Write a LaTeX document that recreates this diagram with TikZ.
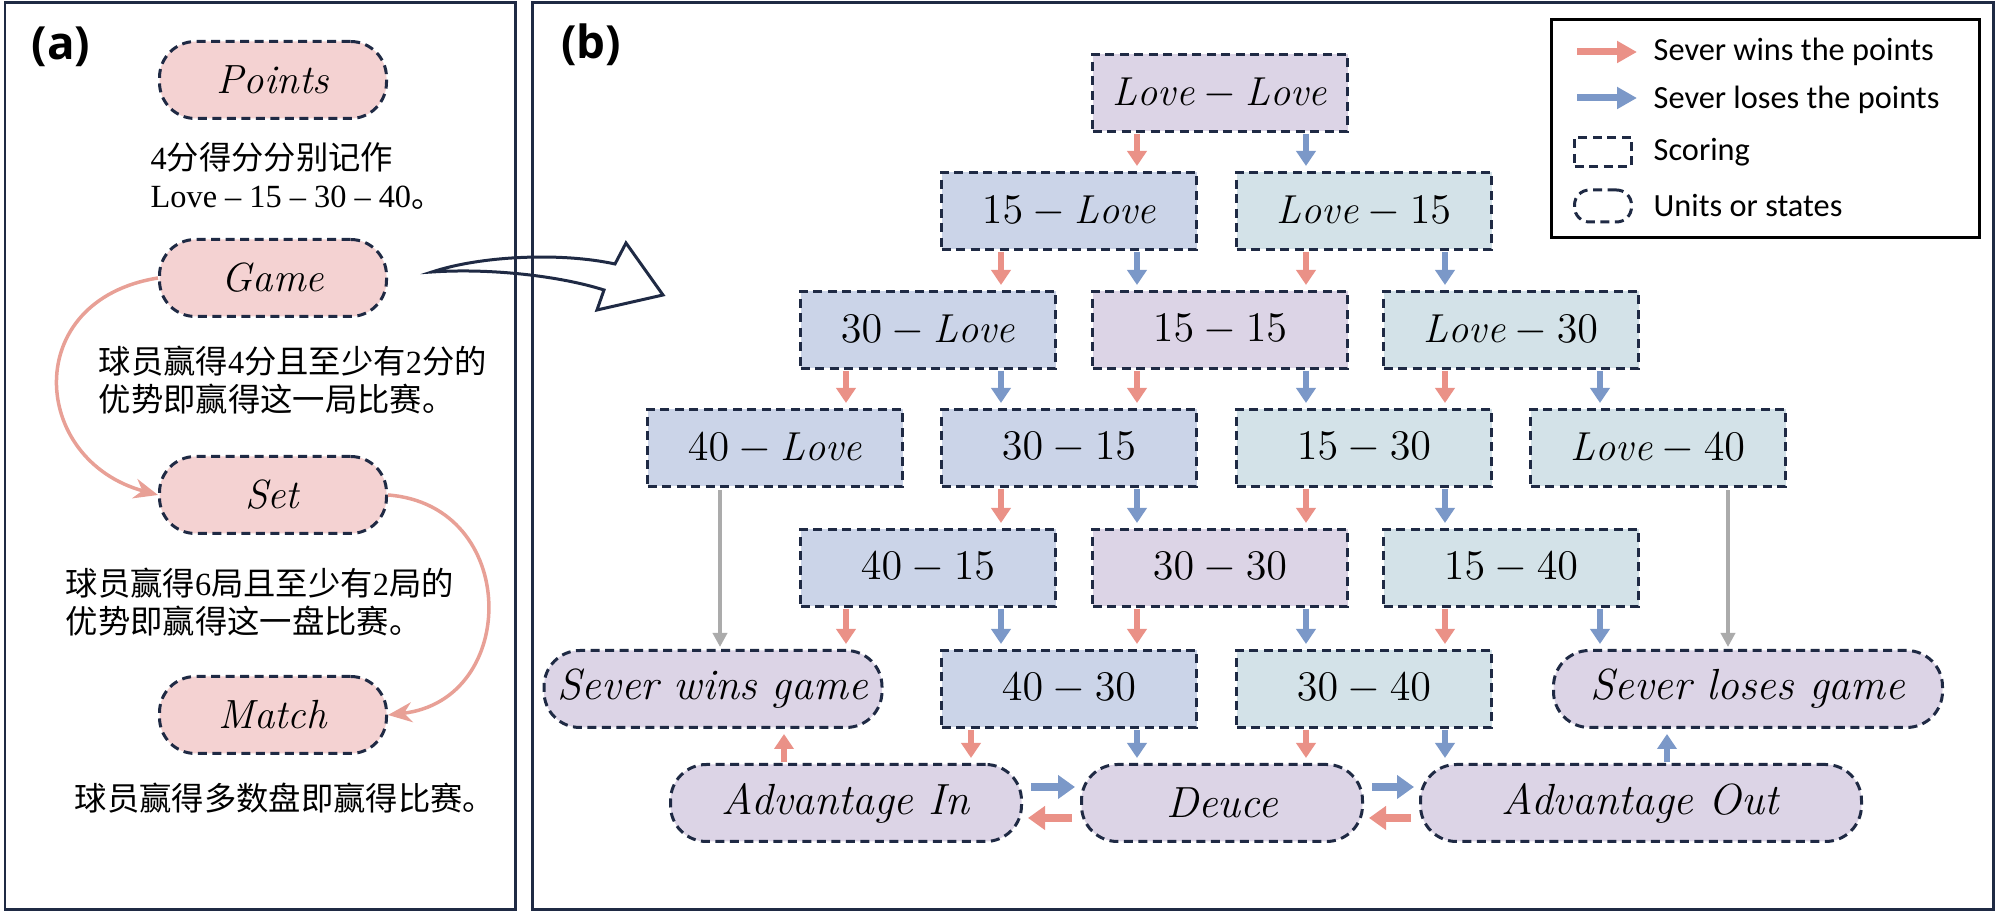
\documentclass[tikz,border=0pt]{standalone}
\usepackage{amsmath}
\usepackage{fontspec}
\newfontfamily\cjk{Noto Sans CJK SC}
\newfontfamily\legendfont{Carlito}
\newfontfamily\tnr{Liberation Serif}
\newfontfamily\labelfont{Open Sans}
\usetikzlibrary{arrows.meta,positioning}
\definecolor{navy}{RGB}{31,42,68}
\definecolor{pillpink}{RGB}{244,210,210}
\definecolor{boxpurple}{RGB}{220,212,230}
\definecolor{boxblue}{RGB}{203,212,232}
\definecolor{boxteal}{RGB}{211,226,232}
\definecolor{winred}{RGB}{234,145,135}
\definecolor{loseblue}{RGB}{123,152,200}
\definecolor{curvepink}{RGB}{232,160,150}
\newcommand\boxfont{\fontsize{11.5}{13}\selectfont}
\newcommand\pillfont{\fontsize{12.4}{14}\selectfont}
\newcommand\unitfont{\fontsize{11.6}{14}\selectfont}
\newcommand\notefont{\fontsize{9.2}{10.8}\selectfont}
\tikzset{scorebox/.style={draw=navy,line width=0.3mm,dash pattern=on 0.9mm off 0.55mm,
        minimum width=25.5mm,minimum height=7.7mm,inner sep=0pt,font=\boxfont},
    unitpill/.style={scorebox,rounded corners=3.6mm,font=\pillfont},
    winarrow/.style={draw=winred,line width=0.6mm,-{Triangle[width=1.9mm,length=1.5mm]},
        shorten <=0.1mm,shorten >=0.5mm},
    losearrow/.style={winarrow,draw=loseblue},
    grayarrow/.style={draw=black!33,line width=0.4mm,-{Triangle[width=1.4mm,length=1.4mm]},
        shorten <=0.2mm,shorten >=0.2mm},
    fatarrow/.style={line width=0.8mm,-{Triangle[width=2.3mm,length=1.7mm]},
        shorten <=0.8mm,shorten >=0.5mm},
    legendarrow/.style={line width=0.7mm,-{Triangle[width=2.1mm,length=2mm]}},
    curvearrow/.style={draw=curvepink,line width=0.35mm,-{Stealth[length=2.4mm,width=2mm]}},
    note/.style={anchor=west,align=left,inner sep=0pt,font=\notefont},
    legendtext/.style={anchor=west,inner sep=0pt,font=\legendfont\fontsize{9.2}{11}\selectfont},
    panellabel/.style={inner sep=0pt,font=\labelfont\bfseries\fontsize{13}{15}\selectfont}}

\begin{document}
\begin{tikzpicture}[x=0.1mm,y=-0.1mm]
\useasboundingbox (0,0) rectangle (2000,915);

% panels
\draw [navy,line width=0.3mm] (5,3) rectangle (515,910);
\draw [navy,line width=0.3mm] (532,3) rectangle (1993,910);
\node (la) [panellabel] at (61,47) {(a)};
\node (lb) [panellabel] at (591,45) {(b)};

% (a) units
\node (points) [unitpill,fill=pillpink,minimum width=22.7mm,font=\unitfont] at (273,80) {\textit{Points}};
\node (game)   [unitpill,fill=pillpink,minimum width=22.7mm,font=\unitfont] at (273,278) {\textit{Game}};
\node (set)    [unitpill,fill=pillpink,minimum width=22.7mm,font=\unitfont] at (273,495) {\textit{Set}};
\node (match)  [unitpill,fill=pillpink,minimum width=22.7mm,font=\unitfont] at (273,715) {\textit{Match}};

\node (tpoints) [note] at (150,176) {{\tnr 4}{\cjk 分得分分别记作}\\{\tnr Love – 15 – 30 – 40}{\cjk 。}};
\node (tgame)   [note] at (98,380) {{\cjk 球员赢得}{\tnr 4}{\cjk 分且至少有}{\tnr 2}{\cjk 分的}\\{\cjk 优势即赢得这一局比赛。}};
\node (tset)    [note] at (65,602) {{\cjk 球员赢得}{\tnr 6}{\cjk 局且至少有}{\tnr 2}{\cjk 局的}\\{\cjk 优势即赢得这一盘比赛。}};
\node (tmatch)  [note] at (74,798) {{\cjk 球员赢得多数盘即赢得比赛。}};

\draw [curvearrow] (game.west) .. controls (20,300) and (30,460) .. (set.west);
\draw [curvearrow] (set.east) .. controls (520,505) and (520,700) .. (match.east);

% hollow arrow from (a) to (b)
\draw [navy,line width=0.3mm,line join=miter] (432,272) .. controls (480,256) and (560,252) .. (615,264)
    -- (626,243) -- (663,295) -- (597,310) -- (604,290)
    .. controls (560,276) and (490,268) .. cycle;

% (b) scores
\node (s00) [scorebox,fill=boxpurple] at (1220,93)  {$\mathit{Love}-\mathit{Love}$};
\node (s10) [scorebox,fill=boxblue]   at (1069,211) {$15-\mathit{Love}$};
\node (s01) [scorebox,fill=boxteal]   at (1364,211) {$\mathit{Love}-15$};
\node (s20) [scorebox,fill=boxblue]   at (928,330)  {$30-\mathit{Love}$};
\node (s11) [scorebox,fill=boxpurple] at (1220,330) {$15-15$};
\node (s02) [scorebox,fill=boxteal]   at (1511,330) {$\mathit{Love}-30$};
\node (s30) [scorebox,fill=boxblue]   at (775,448)  {$40-\mathit{Love}$};
\node (s21) [scorebox,fill=boxblue]   at (1069,448) {$30-15$};
\node (s12) [scorebox,fill=boxteal]   at (1364,448) {$15-30$};
\node (s03) [scorebox,fill=boxteal]   at (1658,448) {$\mathit{Love}-40$};
\node (s31) [scorebox,fill=boxblue]   at (928,568)  {$40-15$};
\node (s22) [scorebox,fill=boxpurple] at (1220,568) {$30-30$};
\node (s13) [scorebox,fill=boxteal]   at (1511,568) {$15-40$};
\node (s32) [scorebox,fill=boxblue]   at (1069,689) {$40-30$};
\node (s23) [scorebox,fill=boxteal]   at (1364,689) {$30-40$};

% (b) states
\node (sw) [unitpill,fill=boxpurple,minimum width=33.8mm] at (713,689)  {\textit{Sever wins game}};
\node (sl) [unitpill,fill=boxpurple,minimum width=38.9mm] at (1748,689) {\textit{Sever loses game}};
\node (ai) [unitpill,fill=boxpurple,minimum width=35.1mm] at (846,803)  {\textit{Advantage In}};
\node (de) [unitpill,fill=boxpurple,minimum width=28.1mm] at (1222,803) {\textit{Deuce}};
\node (ao) [unitpill,fill=boxpurple,minimum width=44.1mm] at (1641,803) {\textit{Advantage Out}};

\foreach \n/\x in {1/846,2/1001,3/1137,4/1306,5/1445,6/1600,7/971,8/784,9/1667,10/720,11/1728}
    \coordinate (c\n) at (\x,0);

\draw [winarrow]  (s00.south -| c3) -- (s10.north -| c3);
\draw [losearrow] (s00.south -| c4) -- (s01.north -| c4);
\draw [winarrow]  (s10.south -| c2) -- (s20.north -| c2);
\draw [losearrow] (s10.south -| c3) -- (s11.north -| c3);
\draw [winarrow]  (s01.south -| c4) -- (s11.north -| c4);
\draw [losearrow] (s01.south -| c5) -- (s02.north -| c5);
\draw [winarrow]  (s20.south -| c1) -- (s30.north -| c1);
\draw [losearrow] (s20.south -| c2) -- (s21.north -| c2);
\draw [winarrow]  (s11.south -| c3) -- (s21.north -| c3);
\draw [losearrow] (s11.south -| c4) -- (s12.north -| c4);
\draw [winarrow]  (s02.south -| c5) -- (s12.north -| c5);
\draw [losearrow] (s02.south -| c6) -- (s03.north -| c6);
\draw [winarrow]  (s21.south -| c2) -- (s31.north -| c2);
\draw [losearrow] (s21.south -| c3) -- (s22.north -| c3);
\draw [winarrow]  (s12.south -| c4) -- (s22.north -| c4);
\draw [losearrow] (s12.south -| c5) -- (s13.north -| c5);
\draw [grayarrow] (s30.south -| c10) -- (sw.north -| c10);
\draw [grayarrow] (s03.south -| c11) -- (sl.north -| c11);
\draw [winarrow]  (s31.south -| c1) -- (sw.north -| c1);
\draw [losearrow] (s31.south -| c2) -- (s32.north -| c2);
\draw [winarrow]  (s22.south -| c3) -- (s32.north -| c3);
\draw [losearrow] (s22.south -| c4) -- (s23.north -| c4);
\draw [winarrow]  (s13.south -| c5) -- (s23.north -| c5);
\draw [losearrow] (s13.south -| c6) -- (sl.north -| c6);
\draw [winarrow]  (s32.south -| c7) -- (ai.north -| c7);
\draw [losearrow] (s32.south -| c3) -- (de.north -| c3);
\draw [winarrow]  (s23.south -| c4) -- (de.north -| c4);
\draw [losearrow] (s23.south -| c5) -- (ao.north -| c5);
\draw [winarrow]  (ai.north -| c8) -- (sw.south -| c8);
\draw [losearrow] (ao.north -| c9) -- (sl.south -| c9);

\draw [loseblue,fatarrow] ([yshift=1.6mm]ai.east) -- ([yshift=1.6mm]de.west);
\draw [winred,fatarrow]   ([yshift=-1.5mm]de.west) -- ([yshift=-1.5mm]ai.east);
\draw [loseblue,fatarrow] ([yshift=1.6mm]de.east) -- ([yshift=1.6mm]ao.west);
\draw [winred,fatarrow]   ([yshift=-1.5mm]ao.west) -- ([yshift=-1.5mm]de.east);

% legend
\node (legend) [draw,line width=0.3mm,minimum width=42.8mm,minimum height=21.8mm] at (1765,129) {};
\coordinate (lwa) at (1577,52);
\coordinate (lwb) at (1637,52);
\coordinate (lla) at (1577,98);
\coordinate (llb) at (1637,98);
\draw [winred,legendarrow]   (lwa) -- (lwb);
\draw [loseblue,legendarrow] (lla) -- (llb);
\node (lgbox)  [scorebox,minimum width=5.7mm,minimum height=2.9mm] at (1603,152) {};
\node (lgpill) [scorebox,minimum width=5.7mm,minimum height=3.2mm,rounded corners=1.5mm] at (1603,206) {};
\node (lgwin)   [legendtext] at (1653,52)  {Sever wins the points};
\node (lglose)  [legendtext] at (1653,100) {Sever loses the points};
\node (lgscore) [legendtext] at (1653,152) {Scoring};
\node (lgunit)  [legendtext] at (1653,206) {Units or states};

\end{tikzpicture}
\end{document}
